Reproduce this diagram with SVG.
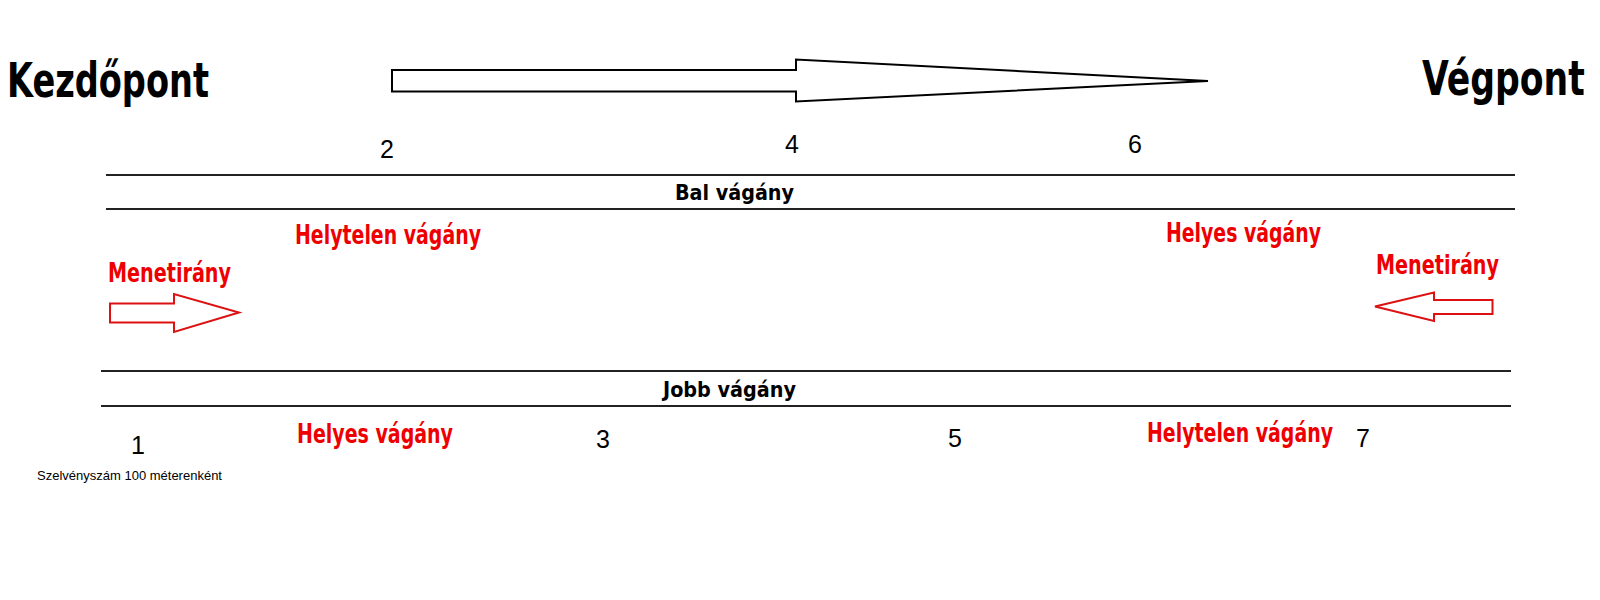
<svg xmlns="http://www.w3.org/2000/svg" width="1600" height="600" viewBox="0 0 1600 600">
  <style>
    .bg { fill: #ffffff; }
    .heavy { font-family: "Liberation Sans Narrow", "DejaVu Sans Condensed", "DejaVu Sans", sans-serif; font-weight: bold; }
    .title { font-size: 48px; fill: #000000; }
    .track-label { font-size: 22px; fill: #000000; }
    .red { font-size: 26px; fill: #ee0000; }
    .num { font-family: "Liberation Sans", Arial, sans-serif; font-size: 25px; fill: #000000; text-anchor: middle; }
    .small { font-family: "Liberation Sans", Arial, sans-serif; font-size: 13px; fill: #000000; }
    .rail { stroke: #222222; stroke-width: 2; fill: none; }
    .big-arrow { fill: #ffffff; stroke: #000000; stroke-width: 2; stroke-linejoin: miter; }
    .red-arrow { fill: #ffffff; stroke: #dd1111; stroke-width: 2; stroke-linejoin: miter; }
  </style>
  <rect class="bg" x="0" y="0" width="1600" height="600"/>

  <g id="start-label"><text class="heavy title" transform="translate(7,97) scale(0.8,1)" x="0" y="0" textLength="252.5" lengthAdjust="spacingAndGlyphs">Kezdőpont</text></g>
  <g id="end-label"><text class="heavy title" transform="translate(1422,95) scale(0.75,1)" x="0" y="0" textLength="217" lengthAdjust="spacingAndGlyphs">Végpont</text></g>

  <g id="direction-arrow">
    <polygon class="big-arrow" points="392,70 796,70 796,59.5 1208,81 796,101.5 796,91.5 392,91.5"/>
  </g>

  <g id="connectors">
    <line class="rail" x1="106" y1="175" x2="1515" y2="175"/>
    <line class="rail" x1="106" y1="209" x2="1515" y2="209"/>
    <line class="rail" x1="101" y1="371" x2="1511" y2="371"/>
    <line class="rail" x1="101" y1="406" x2="1511" y2="406"/>
  </g>

  <g id="left-track-label"><text class="heavy track-label" x="675" y="200" textLength="119" lengthAdjust="spacingAndGlyphs">Bal vágány</text></g>
  <g id="right-track-label"><text class="heavy track-label" x="663" y="397" textLength="133" lengthAdjust="spacingAndGlyphs">Jobb vágány</text></g>

  <g id="top-wrong"><text class="heavy red" x="295" y="244" textLength="186" lengthAdjust="spacingAndGlyphs">Helytelen vágány</text></g>
  <g id="top-right"><text class="heavy red" x="1166" y="241.5" textLength="155" lengthAdjust="spacingAndGlyphs">Helyes vágány</text></g>
  <g id="bottom-right"><text class="heavy red" x="297" y="443" textLength="156" lengthAdjust="spacingAndGlyphs">Helyes vágány</text></g>
  <g id="bottom-wrong"><text class="heavy red" transform="translate(1147,441.5) scale(0.85,1)" x="0" y="0" textLength="218.8" lengthAdjust="spacingAndGlyphs">Helytelen vágány</text></g>

  <g id="left-direction">
    <text class="heavy red" x="108" y="281.5" textLength="123" lengthAdjust="spacingAndGlyphs">Menetirány</text>
    <polygon class="red-arrow" points="110,303.5 174,303.5 174,294 239,312.5 174,332 174,322.5 110,322.5"/>
  </g>
  <g id="right-direction">
    <text class="heavy red" x="1376" y="274" textLength="123" lengthAdjust="spacingAndGlyphs">Menetirány</text>
    <polygon class="red-arrow" points="1492.5,300 1434,300 1434,292.5 1375,306.5 1434,321 1434,314 1492.5,314"/>
  </g>

  <g id="km-1"><text class="num" x="138" y="454">1</text></g>
  <g id="km-2"><text class="num" x="387" y="158">2</text></g>
  <g id="km-3"><text class="num" x="603" y="448">3</text></g>
  <g id="km-4"><text class="num" x="792" y="153">4</text></g>
  <g id="km-5"><text class="num" x="955" y="447">5</text></g>
  <g id="km-6"><text class="num" x="1135" y="153">6</text></g>
  <g id="km-7"><text class="num" x="1363" y="447">7</text></g>

  <g id="note"><text class="small" x="37" y="480">Szelvényszám 100 méterenként</text></g>
</svg>
